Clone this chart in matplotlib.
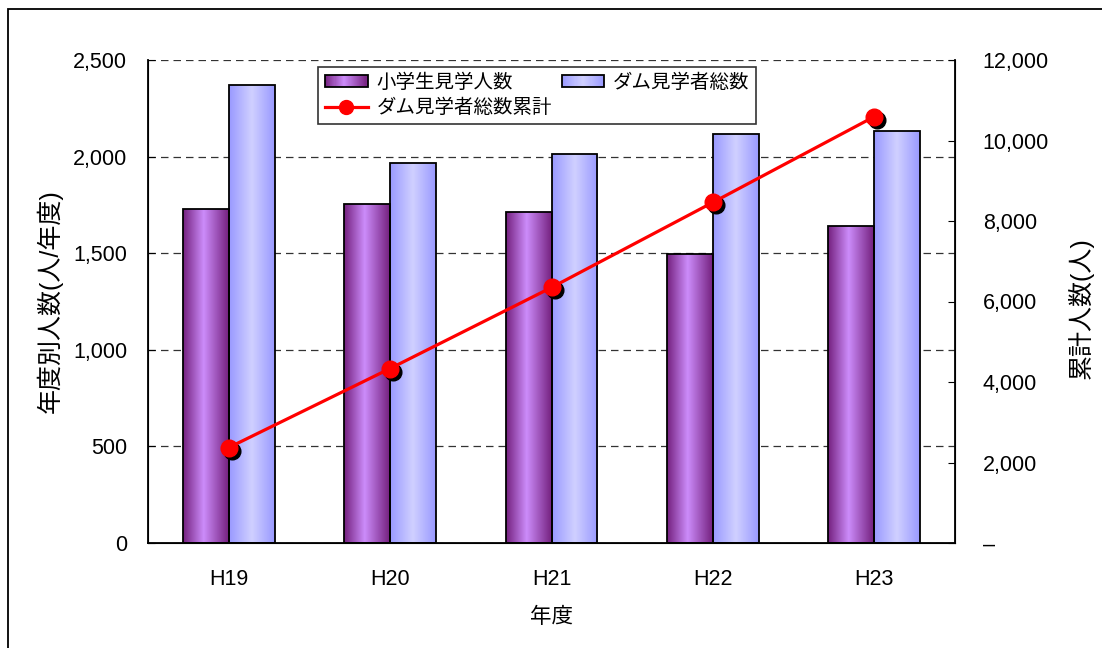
# -*- coding: utf-8 -*-
"""
ダム見学者数の推移グラフ
年度別の棒グラフ（左軸）と累計人数の折れ線（右軸）
"""
import numpy as np
import matplotlib
matplotlib.use("Agg")
import matplotlib.pyplot as plt
from matplotlib.colors import LinearSegmentedColormap
from matplotlib.patches import Rectangle
from matplotlib.lines import Line2D
from matplotlib.legend_handler import HandlerBase
from matplotlib.ticker import FuncFormatter
from matplotlib.transforms import offset_copy

plt.rcParams['font.family'] = ['Liberation Sans', 'Noto Sans CJK JP']

# 年度別データ
years = ['H19', 'H20', 'H21', 'H22', 'H23']
students = [1730, 1755, 1713, 1496, 1640]        # 小学生見学人数
visitors = [2370, 1965, 2013, 2115, 2130]        # ダム見学者総数
cumulative = [2370, 4335, 6348, 8463, 10593]     # ダム見学者総数累計

LABEL_STUDENTS = '小学生見学人数'
LABEL_VISITORS = 'ダム見学者総数'
LABEL_CUMULATIVE = 'ダム見学者総数累計'

# グラデーション配色（端が濃く中央が明るい）
cmap_purple = LinearSegmentedColormap.from_list(
    'purple', [(0.0, '#74207e'), (0.45, '#cc8cfa'), (1.0, '#74207e')])
cmap_blue = LinearSegmentedColormap.from_list(
    'blue', [(0.0, '#9999ff'), (0.5, '#d0d0ff'), (1.0, '#9999ff')])

W, H = 1102, 648
fig = plt.figure(figsize=(W / 100, H / 100), dpi=100)
ax = fig.add_axes([148 / W, 1 - 543 / H, 807 / W, 483 / H])

# 外枠
fig.patches.append(Rectangle((8 / W, -0.1), 1.2, 1 - 9 / H + 0.1,
                             transform=fig.transFigure, fill=False,
                             edgecolor='black', linewidth=1.3))

x = np.arange(len(years))
bw = 0.285


def gradient_bars(ax, xs, heights, cmap):
    bars = ax.bar(xs, heights, width=bw, facecolor='none',
                  edgecolor='black', linewidth=1.3, zorder=3)
    grad = np.linspace(0, 1, 256).reshape(1, -1)
    for b in bars:
        x0, y0 = b.get_x(), b.get_y()
        im = ax.imshow(grad, cmap=cmap, aspect='auto', zorder=2.5,
                       extent=(x0, x0 + b.get_width(), y0, y0 + b.get_height()))
        im.set_clip_path(b)
    return bars


class GradientHandle:
    def __init__(self, cmap):
        self.cmap = cmap


class HandlerGradient(HandlerBase):
    """凡例用：細い短冊を並べてグラデーションを描く"""

    def create_artists(self, legend, orig_handle, xdescent, ydescent,
                       width, height, fontsize, trans):
        n = 40
        arts = []
        for i in range(n):
            c = orig_handle.cmap((i + 0.5) / n)
            arts.append(Rectangle((-xdescent + width * i / n, -ydescent),
                                  width / n * 1.05, height, facecolor=c,
                                  edgecolor='none', transform=trans))
        arts.append(Rectangle((-xdescent, -ydescent), width, height,
                              fill=False, edgecolor='black', linewidth=1.3,
                              transform=trans))
        return arts


gradient_bars(ax, x - bw / 2, students, cmap_purple)
gradient_bars(ax, x + bw / 2, visitors, cmap_blue)

ax.set_xlim(-0.5, len(years) - 0.5)
ax.set_ylim(0, 2500)
ax.set_yticks(np.arange(0, 2501, 500))
ax.yaxis.set_major_formatter(FuncFormatter(lambda v, p: f'{int(v):,}'))
ax.yaxis.grid(True, linestyle=(0, (6, 4)), color='#333333', linewidth=0.9)
ax.set_axisbelow(True)
ax.set_xticks(x)
ax.set_xticklabels(years)
ax.tick_params(axis='x', length=0, pad=19, labelsize=15.5)
ax.tick_params(axis='y', direction='in', length=5, pad=15, labelsize=15.5)
ax.spines['top'].set_visible(False)
for s in ('left', 'bottom'):
    ax.spines[s].set_linewidth(1.3)
ax.set_xlabel('年度', fontsize=15.5, labelpad=12)
ax.set_ylabel('年度別人数(人/年度)', fontsize=18)
ax.yaxis.set_label_coords(-0.105, 0.5)

# 累計（右軸）
ax2 = ax.twinx()
ax2.set_ylim(0, 12000)
ax2.set_yticks(np.arange(0, 12001, 2000))
ax2.yaxis.set_major_formatter(
    FuncFormatter(lambda v, p: '–' if v == 0 else f'{int(v):,}'))
ax2.tick_params(axis='y', direction='in', length=5, pad=20, labelsize=15.5)
ax2.spines['top'].set_visible(False)
ax2.spines['right'].set_linewidth(1.3)
ax2.set_ylabel('累計人数(人)', fontsize=18)
ax2.yaxis.set_label_coords(1.14, 0.487)

shadow = offset_copy(ax2.transData, fig=fig, x=3, y=-3, units='dots')
ax2.plot(x, cumulative, linestyle='none', marker='o', markersize=12,
         color='black', transform=shadow, zorder=4)
ax2.plot(x, cumulative, color='#ff0000', linewidth=2.3, marker='o',
         markersize=12, zorder=5)

h_students = GradientHandle(cmap_purple)
h_visitors = GradientHandle(cmap_blue)
h_cum = Line2D([], [], color='#ff0000', linewidth=2.3, marker='o', markersize=10)
handles = [h_students, h_cum, h_visitors]
labels = [LABEL_STUDENTS, LABEL_CUMULATIVE, LABEL_VISITORS]
leg = ax2.legend(handles, labels, ncol=2, loc='upper left',
                 bbox_to_anchor=(0.2107, 0.9855), borderaxespad=0,
                 fontsize=14, frameon=True, fancybox=False,
                 handler_map={GradientHandle: HandlerGradient()},
                 handlelength=2.2, handleheight=0.6, handletextpad=0.45,
                 columnspacing=0.5, labelspacing=0.35, borderpad=0.35)
leg.get_frame().set_edgecolor('black')
leg.get_frame().set_linewidth(1.2)
leg.set_zorder(10)

fig.savefig('out.png', dpi=100)
plt.close(fig)
